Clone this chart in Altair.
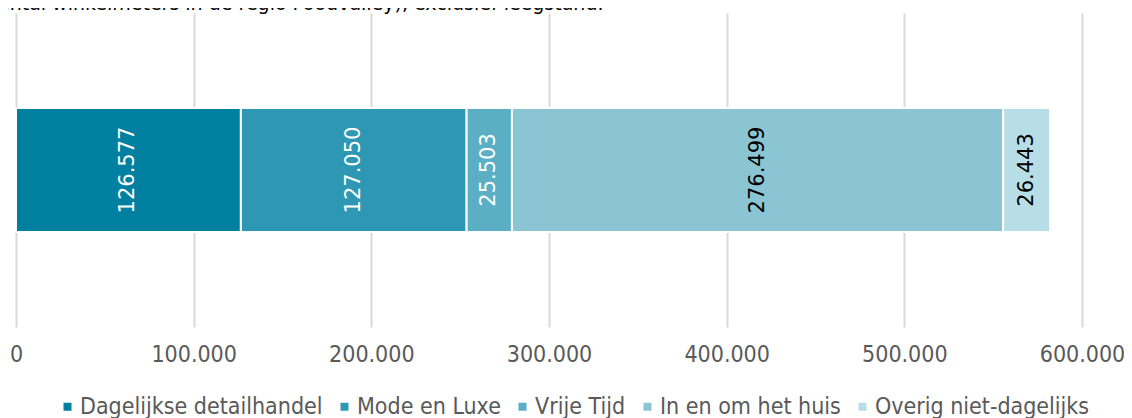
import altair as alt
import pandas as pd

categories = ["Dagelijkse detailhandel", "Mode en Luxe", "Vrije Tijd",
              "In en om het huis", "Overig niet-dagelijks"]
values = [126577, 127050, 25503, 276499, 26443]
colors = ["#0080a0", "#2e98b4", "#5aafc4", "#8bc5d4", "#b7dde6"]
x_ticks = [0, 100000, 200000, 300000, 400000, 500000, 600000]
title_text = ["Aantal winkelmeters in de regio Foodvalley), exclusief leegstand."]

df = pd.DataFrame({
    "branche": categories,
    "meters": values,
    "idx": list(range(len(categories))),
    "rij": ["totaal"] * len(categories),
})
title_df = pd.DataFrame({"titel": title_text})

cond_font = "DejaVu Sans Condensed, Liberation Sans Narrow, DejaVu Sans"

base = alt.Chart(df)
yenc = alt.Y("rij:N", axis=None,
             scale=alt.Scale(paddingInner=0, paddingOuter=0.766))

bars = base.mark_bar(stroke="white", strokeWidth=2).encode(
    x=alt.X("meters:Q", stack="zero",
            scale=alt.Scale(domain=[0, 600000], nice=False),
            axis=alt.Axis(values=x_ticks, format=",d", grid=True,
                          gridColor="#d9d9d9", gridWidth=2, ticks=False,
                          domain=False, labelFont=cond_font, labelFontSize=23,
                          labelColor="#595959", labelPadding=16, title=None,
                          labelFlush=False)),
    y=yenc,
    color=alt.Color("branche:N",
                    scale=alt.Scale(domain=categories, range=colors),
                    legend=alt.Legend(orient="none", direction="horizontal",
                                      legendX=40, legendY=382, title=None,
                                      symbolType="square", symbolSize=64,
                                      symbolStrokeWidth=0,
                                      labelFont=cond_font, labelFontSize=23,
                                      labelColor="#595959", labelLimit=400,
                                      labelOffset=1, columnPadding=10)),
    order=alt.Order("idx:Q"),
)

labels = base.transform_window(
    cum="sum(meters)", sort=[alt.SortField("idx")], frame=[None, 0]
).transform_calculate(
    mid="datum.cum - datum.meters / 2"
).mark_text(angle=270, font="DejaVu Sans", fontSize=21).encode(
    x=alt.X("mid:Q"),
    y=yenc,
    text=alt.Text("meters:Q", format=",d"),
    color=alt.condition("datum.idx < 3", alt.value("white"), alt.value("black")),
)

title_mark = alt.Chart(title_df).mark_text(
    align="left", baseline="alphabetic", font="DejaVu Sans", fontSize=19,
    color="black"
).encode(
    text="titel:N",
    x=alt.value(-31),
    y=alt.value(-3),
)

chart = alt.layer(bars, labels, title_mark).properties(
    width=1066, height=314,
    autosize=alt.AutoSizeParams(type="none"),
    padding={"left": 8, "top": 5, "right": 42, "bottom": 91},
).configure(
    view={"stroke": None},
    locale={"number": {"decimal": ",", "thousands": ".", "grouping": [3],
                       "currency": ["€", ""]}}
)

chart.save("out.html", embed_options={"renderer": "svg", "actions": False})
